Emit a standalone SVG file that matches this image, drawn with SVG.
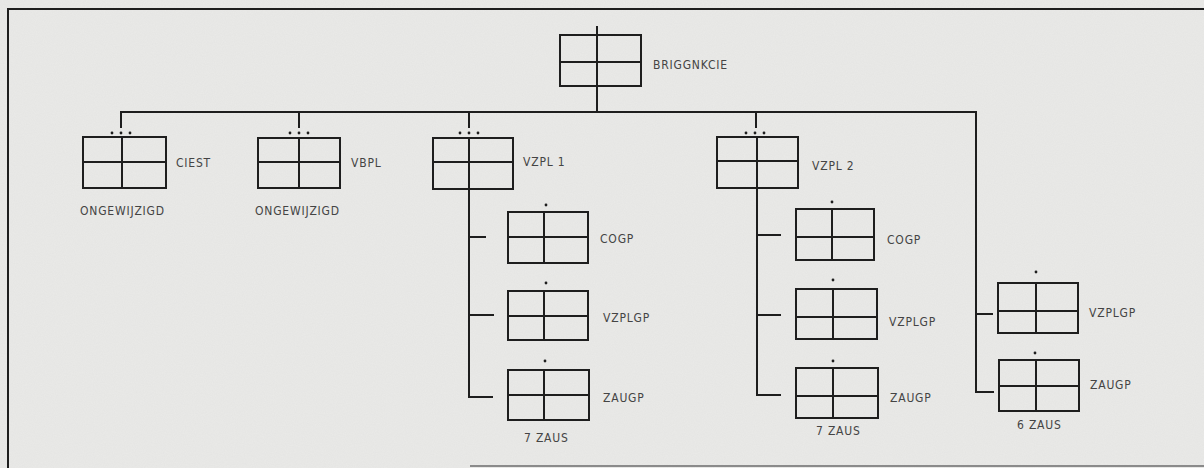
<svg xmlns="http://www.w3.org/2000/svg" width="1204" height="468" viewBox="0 0 1204 468">
<defs>
<filter id="paper" x="0" y="0" width="100%" height="100%">
<feTurbulence type="fractalNoise" baseFrequency="0.9" numOctaves="2" seed="3" result="n"/>
<feColorMatrix type="matrix" values="0 0 0 0 0.5  0 0 0 0 0.5  0 0 0 0 0.5  0 0 0 0.12 0"/>
</filter>
</defs>
<style>
.ln{stroke:#1e1e1e;stroke-width:2;fill:none;stroke-linecap:square}
.bx{stroke:#1e1e1e;stroke-width:2;fill:none}
.dot{fill:#1e1e1e}
.t{font-family:"DejaVu Sans Condensed","DejaVu Sans","Liberation Sans",sans-serif;font-size:12px;fill:#444;letter-spacing:0.8px}
</style>
<rect width="1204" height="468" fill="#eaeae8"/>
<rect width="1204" height="468" filter="url(#paper)"/>
<g id="frame">
<path class="ln" d="M8 9H1204M8 9V468"/>
<path d="M470 466H1204" stroke="#8a8a8a" stroke-width="2"/>
</g>
<g id="connectors">
<path class="ln" d="M597 27V112M121 112H976"/>
<path class="ln" d="M121 112V127M299 112V127M469 112V127M756 112V127"/>
<path class="ln" d="M976 112V392M976 314H992M976 392H993"/>
<path class="ln" d="M469 189V397M469 237H485M469 315H493M469 397H492"/>
<path class="ln" d="M757 188V395M757 235H780M757 315H780M757 395H780"/>
</g>
<g id="briggnkcie">
<rect class="bx" x="560" y="35" width="81" height="51"/>
<path class="ln" d="M560 62H641M597 35V86"/>
<text class="t" x="653" y="69">BRIGGNKCIE</text>
</g>
<g id="ciest">
<circle class="dot" cx="112" cy="133" r="1.4"/><circle class="dot" cx="121" cy="133" r="1.4"/><circle class="dot" cx="130" cy="133" r="1.4"/>
<rect class="bx" x="83" y="137" width="83" height="51"/>
<path class="ln" d="M83 162H166M122 137V188"/>
<text class="t" x="176" y="167">CIEST</text>
<text class="t" x="80" y="215">ONGEWIJZIGD</text>
</g>
<g id="vbpl">
<circle class="dot" cx="290" cy="133" r="1.4"/><circle class="dot" cx="299" cy="133" r="1.4"/><circle class="dot" cx="308" cy="133" r="1.4"/>
<rect class="bx" x="258" y="138" width="82" height="50"/>
<path class="ln" d="M258 162H340M299 138V188"/>
<text class="t" x="351" y="167">VBPL</text>
<text class="t" x="255" y="215">ONGEWIJZIGD</text>
</g>
<g id="vzpl1">
<circle class="dot" cx="460" cy="133" r="1.4"/><circle class="dot" cx="469" cy="133" r="1.4"/><circle class="dot" cx="478" cy="133" r="1.4"/>
<rect class="bx" x="433" y="138" width="80" height="51"/>
<path class="ln" d="M433 162H513M469 138V189"/>
<text class="t" x="523" y="166">VZPL 1</text>
</g>
<g id="cogp1">
<circle class="dot" cx="546" cy="205" r="1.4"/>
<rect class="bx" x="508" y="212" width="80" height="51"/>
<path class="ln" d="M508 237H588M544 212V263"/>
<text class="t" x="600" y="243">COGP</text>
</g>
<g id="vzplgp1">
<circle class="dot" cx="546" cy="283" r="1.4"/>
<rect class="bx" x="508" y="291" width="80" height="49"/>
<path class="ln" d="M508 316H588M544 291V340"/>
<text class="t" x="603" y="322">VZPLGP</text>
</g>
<g id="zaugp1">
<circle class="dot" cx="545" cy="361" r="1.4"/>
<rect class="bx" x="508" y="370" width="81" height="50"/>
<path class="ln" d="M508 395H589M544 370V420"/>
<text class="t" x="603" y="402">ZAUGP</text>
<text class="t" x="524" y="442">7 ZAUS</text>
</g>
<g id="vzpl2">
<circle class="dot" cx="746" cy="133" r="1.4"/><circle class="dot" cx="755" cy="133" r="1.4"/><circle class="dot" cx="764" cy="133" r="1.4"/>
<rect class="bx" x="717" y="137" width="81" height="51"/>
<path class="ln" d="M717 161H798M757 137V188"/>
<text class="t" x="812" y="170">VZPL 2</text>
</g>
<g id="cogp2">
<circle class="dot" cx="832" cy="202" r="1.4"/>
<rect class="bx" x="796" y="209" width="78" height="51"/>
<path class="ln" d="M796 237H874M832 209V260"/>
<text class="t" x="887" y="244">COGP</text>
</g>
<g id="vzplgp2">
<circle class="dot" cx="833" cy="280" r="1.4"/>
<rect class="bx" x="796" y="289" width="81" height="50"/>
<path class="ln" d="M796 317H877M833 289V339"/>
<text class="t" x="889" y="326">VZPLGP</text>
</g>
<g id="zaugp2">
<circle class="dot" cx="833" cy="361" r="1.4"/>
<rect class="bx" x="796" y="368" width="82" height="50"/>
<path class="ln" d="M796 396H878M833 368V418"/>
<text class="t" x="890" y="402">ZAUGP</text>
<text class="t" x="816" y="435">7 ZAUS</text>
</g>
<g id="vzplgp3">
<circle class="dot" cx="1036" cy="272" r="1.4"/>
<rect class="bx" x="998" y="283" width="80" height="50"/>
<path class="ln" d="M998 311H1078M1036 283V333"/>
<text class="t" x="1089" y="317">VZPLGP</text>
</g>
<g id="zaugp3">
<circle class="dot" cx="1035" cy="353" r="1.4"/>
<rect class="bx" x="999" y="360" width="80" height="51"/>
<path class="ln" d="M999 386H1079M1036 360V411"/>
<text class="t" x="1090" y="389">ZAUGP</text>
<text class="t" x="1017" y="429">6 ZAUS</text>
</g>
</svg>
